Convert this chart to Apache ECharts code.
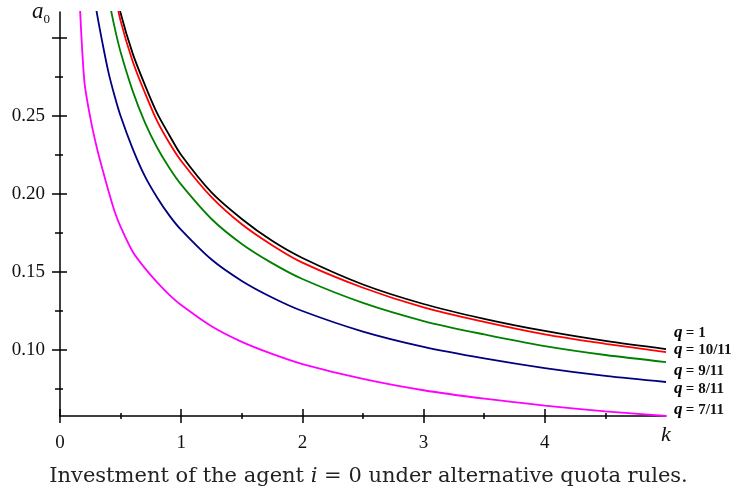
<!DOCTYPE html>
<html>
<head>
<meta charset="utf-8">
<script src="https://cdn.jsdelivr.net/npm/echarts@6/dist/echarts.min.js"></script>
<style>
  html, body { margin: 0; padding: 0; background: #fff; }
  #chart { width: 737px; height: 494px; }
</style>
</head>
<body>
<div id="chart"></div>
<script>
// investment a0 against k, one curve per quota rule
const kValues = [0.15, 0.2, 0.25, 0.3, 0.35, 0.4, 0.45, 0.5, 0.6, 0.7, 0.8, 0.9, 1.0, 1.25, 1.5, 1.75, 2.0, 2.5, 3.0, 3.5, 4.0, 4.5, 5.0];
const q1 = [null, null, null, null, null, null, 0.335, 0.316, 0.290, 0.270, 0.252, 0.238, 0.225, 0.201, 0.184, 0.170, 0.159, 0.142, 0.1295, 0.1200, 0.1122, 0.1058, 0.1006];
const q10 = [null, null, null, null, null, null, 0.330, 0.311, 0.285, 0.265, 0.247, 0.233, 0.2212, 0.198, 0.1806, 0.1672, 0.1560, 0.1399, 0.1273, 0.1180, 0.1100, 0.1040, 0.0987];
const q9 = [null, null, null, null, null, 0.326, 0.307, 0.291, 0.266, 0.246, 0.230, 0.217, 0.206, 0.184, 0.168, 0.1557, 0.1455, 0.1302, 0.1186, 0.1100, 0.1025, 0.0968, 0.0923];
const q8 = [null, null, 0.345, 0.318, 0.297, 0.278, 0.263, 0.250, 0.229, 0.2115, 0.198, 0.1865, 0.177, 0.1580, 0.1443, 0.1337, 0.1250, 0.1118, 0.1020, 0.0946, 0.0884, 0.0834, 0.0795];
const q7 = [0.345, 0.273, 0.249, 0.231, 0.216, 0.202, 0.189, 0.179, 0.163, 0.1525, 0.1435, 0.1355, 0.1288, 0.1152, 0.1052, 0.0975, 0.0910, 0.0815, 0.0742, 0.0688, 0.0644, 0.0607, 0.0577];

const seriesNames = ['1', '10/11', '9/11', '8/11', '7/11'];
const seriesValues = [q1, q10, q9, q8, q7];
const colors = ['#000000', '#ff0000', '#008000', '#000080', '#ff00ff'];
const labelShift = [-16, -2, 9, 7, -6];

const xMajor = [0, 1, 2, 3, 4];
const xMinor = [0.5, 1.5, 2.5, 3.5, 4.5];
const yLabels = [0.10, 0.15, 0.20, 0.25];
const yMajor = [0.10, 0.15, 0.20, 0.25, 0.30];
const yMinor = [0.075, 0.125, 0.175, 0.225, 0.275];

const X_MIN = 0, X_MAX = 5;
const Y_MIN = 0.0577, Y_MAX = 0.3167;
const serif = 'Liberation Serif';
const captionFont = 'DejaVu Serif';

const chart = echarts.init(document.getElementById('chart'), null, { renderer: 'canvas' });

function xAxisFor(values, offset, len) {
  return {
    type: 'value', min: X_MIN, max: X_MAX, position: 'bottom', offset: offset,
    splitLine: { show: false },
    axisLine: { show: false },
    axisLabel: { show: false },
    axisTick: { show: true, customValues: values, length: len, lineStyle: { color: '#000', width: 1.5 } }
  };
}
function yAxisFor(values, offset, len) {
  return {
    type: 'value', min: Y_MIN, max: Y_MAX, position: 'left', offset: offset,
    splitLine: { show: false },
    axisLine: { show: false },
    axisLabel: { show: false },
    axisTick: { show: true, customValues: values, length: len, lineStyle: { color: '#000', width: 1.5 } }
  };
}

chart.setOption({
  animation: false,
  backgroundColor: '#fff',
  title: {
    text: '{n|Investment of the agent }{i|i}{n| = 0 under alternative quota rules.}',
    left: 'center',
    bottom: 2,
    textStyle: {
      fontWeight: 'normal',
      rich: {
        n: { fontFamily: captionFont, fontSize: 21, fontWeight: 'normal', color: '#222' },
        i: { fontFamily: captionFont, fontSize: 21, fontWeight: 'normal', fontStyle: 'italic', color: '#222' }
      }
    }
  },
  grid: { left: 60, right: 71, top: 12, bottom: 78 },
  xAxis: [
    {
      type: 'value', min: X_MIN, max: X_MAX,
      splitLine: { show: false },
      axisLine: { lineStyle: { color: '#000', width: 1.5 } },
      axisTick: { show: false },
      axisLabel: {
        customValues: xMajor, margin: 18, color: '#111',
        fontFamily: serif, fontSize: 19
      },
      name: 'k',
      nameLocation: 'end',
      nameGap: 0,
      nameTextStyle: {
        fontFamily: serif, fontStyle: 'italic', fontSize: 22, color: '#111',
        align: 'center', verticalAlign: 'top', padding: [8, 0, 0, 0]
      }
    },
    xAxisFor(xMajor, -7, 14),
    xAxisFor(xMinor, -3, 6)
  ],
  yAxis: [
    {
      type: 'value', min: Y_MIN, max: Y_MAX,
      splitLine: { show: false },
      axisLine: { lineStyle: { color: '#000', width: 1.5 } },
      axisTick: { show: false },
      axisLabel: {
        customValues: yLabels, margin: 15, color: '#111',
        fontFamily: serif, fontSize: 19,
        formatter: (v) => v.toFixed(2)
      },
      name: '{a|a}{s|0}',
      nameLocation: 'end',
      nameGap: 0,
      nameTextStyle: {
        align: 'right', verticalAlign: 'middle', padding: [0, 10, 0, 0],
        rich: {
          a: { fontFamily: serif, fontStyle: 'italic', fontSize: 23, color: '#111' },
          s: { fontFamily: serif, fontSize: 13, color: '#111', padding: [16, 0, 0, 0] }
        }
      }
    },
    yAxisFor(yMajor, -7, 15),
    yAxisFor(yMinor, -3, 8)
  ],
  series: seriesValues.map((vals, s) => ({
    name: seriesNames[s],
    type: 'line',
    xAxisIndex: 0,
    yAxisIndex: 0,
    smooth: 0.3,
    showSymbol: false,
    clip: true,
    lineStyle: { color: colors[s], width: 1.8 },
    data: kValues.map((k, i) => [k, vals[i]]).filter((p) => p[1] !== null),
    endLabel: {
      show: true,
      distance: 8,
      offset: [0, labelShift[s]],
      formatter: '{q|q} {e|= ' + seriesNames[s] + '}',
      rich: {
        q: { fontFamily: serif, fontStyle: 'italic', fontWeight: 'bold', fontSize: 17, color: '#000' },
        e: { fontFamily: serif, fontWeight: 'bold', fontSize: 15, color: '#111' }
      }
    }
  }))
});
window.addEventListener('resize', () => chart.resize());
</script>
</body>
</html>
